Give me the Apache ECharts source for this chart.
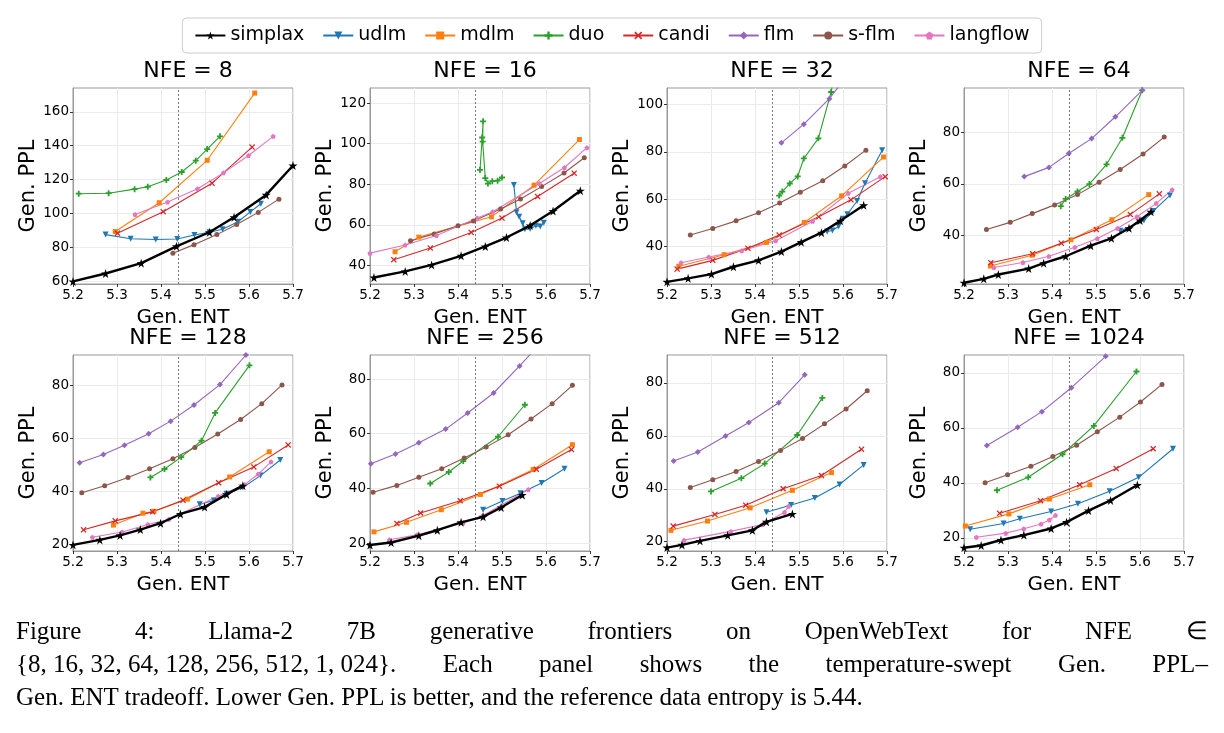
<!DOCTYPE html>
<html><head><meta charset="utf-8">
<script src="https://cdn.jsdelivr.net/npm/echarts@6/dist/echarts.min.js"></script>
<style>
body{margin:0;background:#fff;}
#c{position:absolute;left:0;top:0;width:1224px;height:733px;}
#cap{position:absolute;left:16px;top:614px;width:1192px;font-family:"Liberation Serif",serif;font-size:25px;line-height:33px;color:#000;}
#cap div{white-space:nowrap;}
</style></head><body>
<div id="c"></div>
<div id="cap">
<div style="display:flex;justify-content:space-between"><span>Figure</span><span>4:</span><span>Llama-2</span><span>7B</span><span>generative</span><span>frontiers</span><span>on</span><span>OpenWebText</span><span>for</span><span>NFE</span><span>∈</span></div>
<div style="display:flex;justify-content:space-between"><span>{8, 16, 32, 64, 128, 256, 512, 1, 024}.</span><span>Each</span><span>panel</span><span>shows</span><span>the</span><span>temperature-swept</span><span>Gen.</span><span>PPL–</span></div>
<div>Gen. ENT tradeoff. Lower Gen. PPL is better, and the reference data entropy is 5.44.</div>
</div>
<script>
const nfe = [8, 16, 32, 64, 128, 256, 512, 1024];
const xTicks = [5.2, 5.3, 5.4, 5.5, 5.6, 5.7];
const yRanges = [[58.5,174],[30.8,127.4],[24.1,107],[21,97.3],[17.5,91.6],[17.1,88.8],[16.5,90.5],[15.2,86.5]];
const yTicks = [[60,80,100,120,140,160],[40,60,80,100,120],[40,60,80,100],[40,60,80],[20,40,60,80],[20,40,60,80],[20,40,60,80],[20,40,60,80]];
const refEntropy = 5.44;
const methods = ['simplax','udlm','mdlm','duo','candi','flm','s-flm','langflow'];

const simplax = [
 [[5.2,60],[5.274,64.7],[5.355,70.8],[5.435,80.7],[5.51,89],[5.566,97.8],[5.639,111],[5.7,128.3]],
 [[5.209,34],[5.28,37],[5.34,40.2],[5.407,44.7],[5.462,49.3],[5.51,53.7],[5.564,59.6],[5.616,66.8],[5.678,76.8]],
 [[5.2,25],[5.248,26.5],[5.301,28.3],[5.351,31.4],[5.408,34.1],[5.46,37.8],[5.505,41.8],[5.551,45.8],[5.594,50.8],[5.647,57.4]],
 [[5.2,21.5],[5.245,23],[5.278,24.7],[5.347,27],[5.381,29.1],[5.431,31.8],[5.488,35.9],[5.535,38.8],[5.575,42.7],[5.6,45.7],[5.625,49.1]],
 [[5.2,19.8],[5.261,21.7],[5.307,23.4],[5.353,25.6],[5.399,28],[5.444,31.5],[5.499,34.1],[5.549,38.9],[5.586,42.2]],
 [[5.2,19.3],[5.248,20.2],[5.311,22.7],[5.353,24.7],[5.407,27.6],[5.457,29.6],[5.498,33],[5.546,37.6]],
 [[5.2,17.8],[5.234,18.8],[5.275,20.3],[5.338,22.4],[5.394,24.3],[5.426,27.5],[5.485,30.5]],
 [[5.2,16.4],[5.239,17.2],[5.284,19.2],[5.336,21],[5.398,23.4],[5.433,25.7],[5.483,29.9],[5.533,33.6],[5.594,39.2]]
];
const udlm = [
 [[5.274,87.6],[5.331,85.2],[5.388,84.7],[5.437,85],[5.476,87.4],[5.51,89],[5.54,90.8],[5.575,95.2],[5.603,101],[5.627,105.8]],
 [[5.527,79.6],[5.533,66.2],[5.539,64],[5.547,60.8],[5.552,57.8],[5.564,58],[5.577,59.5],[5.587,59.2],[5.595,61]],
 [[5.564,46.3],[5.576,46.7],[5.59,48.4],[5.6,51.7],[5.61,53.6],[5.632,59.2],[5.65,66.7],[5.689,80.7]],
 [[5.555,41.7],[5.609,45.7],[5.63,49.4],[5.668,55.5]],
 [[5.488,35.2],[5.52,36.6],[5.549,39.1],[5.586,41.5],[5.626,46],[5.671,51.9]],
 [[5.457,32.2],[5.501,35.4],[5.542,38.2],[5.59,42],[5.642,47.2]],
 [[5.426,31.1],[5.482,33.9],[5.536,36.5],[5.592,41.6],[5.647,49]],
 [[5.214,23.1],[5.29,25.2],[5.327,26.9],[5.398,29.6],[5.459,32.4],[5.531,36.9],[5.597,42],[5.675,52.4]]
];
const mdlm = [
 [[5.296,89.4],[5.396,106.4],[5.505,131.4],[5.613,171]],
 [[5.257,46.7],[5.311,53.9],[5.476,63.9],[5.573,79.5],[5.676,102]],
 [[5.227,31.6],[5.33,36.5],[5.426,41.7],[5.512,50.1],[5.597,61.4],[5.692,77.8]],
 [[5.26,28],[5.355,32.2],[5.443,38.2],[5.536,46],[5.62,55.8]],
 [[5.292,27.3],[5.359,31.8],[5.384,32.5],[5.46,37.1],[5.556,45.5],[5.646,55]],
 [[5.209,24.1],[5.283,27.6],[5.362,32.2],[5.451,37.8],[5.571,46.9],[5.66,56]],
 [[5.209,24.3],[5.292,27.8],[5.389,32.8],[5.485,39.4],[5.574,46.1]],
 [[5.203,24.3],[5.302,28.7],[5.394,34.1],[5.486,39.3]]
];
const duo = [
 [[5.213,111.7],[5.281,112],[5.34,114.4],[5.37,115.8],[5.412,119.8],[5.447,124.5],[5.479,131.2],[5.505,138],[5.534,145.5]],
 [[5.45,87],[5.455,103],[5.457,111],[5.456,101],[5.462,83],[5.468,80.3],[5.478,81.5],[5.49,81.7],[5.5,83.3]],
 [[5.455,61.5],[5.462,63.2],[5.479,66.6],[5.497,69.6],[5.511,77.2],[5.544,85.7],[5.573,105.3],[5.58,112]],
 [[5.42,51.3],[5.431,54.1],[5.458,57],[5.485,59.9],[5.524,67.6],[5.56,77.9],[5.605,96.4]],
 [[5.376,45.3],[5.408,48.5],[5.446,53],[5.492,59.2],[5.523,69.7],[5.601,87.7]],
 [[5.337,41.8],[5.379,46],[5.412,50],[5.491,58.9],[5.552,70.6]],
 [[5.3,39],[5.369,44],[5.422,49.5],[5.496,60.3],[5.553,74.3]],
 [[5.275,37.3],[5.346,42],[5.424,50.4],[5.495,60.7],[5.592,80.5]]
];
const candi = [
 [[5.301,88.4],[5.405,101.1],[5.516,117.9],[5.607,139.2]],
 [[5.254,42.8],[5.337,48.5],[5.43,56.2],[5.5,63.3],[5.581,73.9],[5.664,85.4]],
 [[5.223,30.4],[5.304,34.1],[5.384,39.2],[5.455,44.8],[5.545,52.5],[5.618,59.7],[5.696,69.5]],
 [[5.261,29.3],[5.356,32.8],[5.421,36.9],[5.501,42.2],[5.578,48.1],[5.644,56.1]],
 [[5.224,25.5],[5.296,28.9],[5.381,32.3],[5.45,36.7],[5.531,43.3],[5.611,49.3],[5.689,57.6]],
 [[5.261,27.2],[5.315,31],[5.405,35.5],[5.494,40.8],[5.578,47],[5.658,54.2]],
 [[5.214,25.9],[5.309,30.3],[5.379,33.8],[5.464,40],[5.551,45],[5.642,54.9]],
 [[5.281,28.9],[5.374,33.5],[5.463,39.3],[5.546,45.2],[5.63,52.4]]
];
const flm = [
 [],
 [],
 [[5.46,83.8],[5.511,91.7],[5.569,102.5],[5.6,110]],
 [[5.337,62.8],[5.393,66.4],[5.438,71.8],[5.49,77.6],[5.544,86.1],[5.605,96.4]],
 [[5.215,50.9],[5.269,54],[5.317,57.5],[5.372,61.8],[5.422,66.6],[5.475,72.7],[5.534,80.4],[5.593,91.6]],
 [[5.202,49],[5.258,52.6],[5.311,56.7],[5.372,61.7],[5.422,67.6],[5.481,74.9],[5.54,84.8],[5.57,90]],
 [[5.215,50.5],[5.27,53.9],[5.333,59.9],[5.386,65],[5.454,72.5],[5.513,83]],
 [[5.252,53.6],[5.322,60.2],[5.377,65.9],[5.444,74.6],[5.522,86]]
];
const sflm = [
 [[5.427,76.6],[5.475,81.7],[5.527,87.6],[5.572,93.6],[5.621,100.7],[5.668,108.5]],
 [[5.292,52.1],[5.346,55.5],[5.4,59.5],[5.435,61.8],[5.497,67.8],[5.542,72.7],[5.59,78.8],[5.641,85.5],[5.687,93]],
 [[5.253,44.8],[5.304,47.6],[5.357,50.8],[5.408,54.2],[5.456,58.4],[5.503,62.9],[5.554,67.8],[5.604,74],[5.652,80.7]],
 [[5.251,42.2],[5.305,45],[5.355,48.4],[5.406,51.8],[5.458,55.8],[5.507,60.6],[5.555,65.6],[5.607,71.6],[5.655,78.2]],
 [[5.22,39.5],[5.272,42.2],[5.325,45.3],[5.374,48.6],[5.427,52.4],[5.477,56.6],[5.529,61.7],[5.581,67.2],[5.629,73.2],[5.675,80.3]],
 [[5.207,38.6],[5.261,41.1],[5.311,44.1],[5.363,47.2],[5.414,51.1],[5.464,55.1],[5.514,59.6],[5.566,65.4],[5.614,71],[5.66,77.7]],
 [[5.253,40.5],[5.304,43.4],[5.357,46.5],[5.408,50.3],[5.458,54.4],[5.508,59],[5.558,64.5],[5.607,70.1],[5.655,77]],
 [[5.248,40],[5.299,42.9],[5.352,46],[5.402,49.6],[5.456,53.7],[5.503,58.6],[5.554,63.9],[5.601,69.4],[5.65,75.8]]
];
const langflow = [
 [[5.341,99.5],[5.415,106.8],[5.483,114.6],[5.542,124],[5.599,134.2],[5.655,145.5]],
 [[5.2,46],[5.28,50],[5.351,54.7],[5.444,63.3],[5.479,66.4],[5.585,80.3],[5.642,88.2],[5.693,98]],
 [[5.232,33.1],[5.295,35.5],[5.37,38.2],[5.447,42.4],[5.531,50.6],[5.612,62.5],[5.685,69.5]],
 [[5.268,27.4],[5.334,29.4],[5.393,31.8],[5.452,35.3],[5.503,38.7],[5.549,42.7],[5.593,47.2],[5.637,52.4],[5.673,57.7]],
 [[5.244,22.7],[5.312,24.7],[5.37,27.5],[5.418,29.5],[5.53,38.2],[5.59,42.6],[5.621,46.6],[5.65,51.2]],
 [[5.244,21.2],[5.307,23],[5.412,27.4],[5.457,30.1],[5.56,39.6]],
 [[5.239,20.6],[5.345,23.9],[5.417,26.5],[5.467,31.1],[5.476,33.4]],
 [[5.228,20.2],[5.295,21.7],[5.336,23.3],[5.375,25],[5.394,26.5],[5.408,28.2]]
];
const dataByMethod = [simplax, udlm, mdlm, duo, candi, flm, sflm, langflow];

const colors = ['#000000','#1f77b4','#ff7f0e','#2ca02c','#d62728','#9467bd','#8c564b','#e377c2'];
const starPath = 'path://M50,0 L61,35 L98,35 L68,57 L79,91 L50,70 L21,91 L32,57 L2,35 L39,35 Z';
const plusPath = 'path://M35,0 H65 V35 H100 V65 H65 V100 H35 V65 H0 V35 H35 Z';
const xPath = 'path://M15,0 L50,35 L85,0 L100,15 L65,50 L100,85 L85,100 L50,65 L15,100 L0,85 L35,50 L0,15 Z';
const pentPath = 'path://M50,0 L98,35 L79,91 L21,91 L2,35 Z';
const symbols = [starPath,'triangle','rect',plusPath,xPath,'diamond','circle',pentPath];
const sizes = [9,6,5,6,6,6,5,5];
const rot = [0,180,0,0,0,0,0,0];

const lefts = [73,370,667,964], tops = [88,355], W = 220, H = 196;
const grid=[], xAxis=[], yAxis=[], title=[], series=[];
for (let i=0;i<8;i++){
  const c=i%4, r=Math.floor(i/4);
  grid.push({left:lefts[c], top:tops[r], width:W, height:H, show:true, borderColor:'#999', borderWidth:1});
  title.push({text:'NFE = '+nfe[i], left:lefts[c]+W/2, top:tops[r]-33, textAlign:'center',
    textStyle:{fontFamily:'DejaVu Sans', fontSize:22, fontWeight:'normal', color:'#000'}});
  xAxis.push({gridIndex:i, type:'value', min:5.2, max:5.7, interval:0.1,
    name:'Gen. ENT', nameLocation:'middle', nameGap:24,
    nameTextStyle:{fontFamily:'DejaVu Sans', fontSize:20, color:'#000'},
    axisLine:{show:true,onZero:false,lineStyle:{color:'#999'}},
    axisTick:{show:true,length:3,lineStyle:{color:'#333'}},
    axisLabel:{fontFamily:'DejaVu Sans',fontSize:13.5,color:'#000',margin:4,formatter:v=>v.toFixed(1)},
    splitLine:{show:true,lineStyle:{color:'#ebebeb'}}});
  yAxis.push({gridIndex:i, type:'value', min:yRanges[i][0], max:yRanges[i][1],
    name:'Gen. PPL', nameLocation:'middle', nameGap:34,
    nameTextStyle:{fontFamily:'DejaVu Sans', fontSize:21, color:'#000'},
    axisLine:{show:true,lineStyle:{color:'#999'}},
    axisTick:{show:true,length:3,customValues:yTicks[i],lineStyle:{color:'#333'}},
    axisLabel:{fontFamily:'DejaVu Sans',fontSize:13.5,color:'#000',margin:4,customValues:yTicks[i]},
    splitLine:{show:true,lineStyle:{color:'#ebebeb'}}});
  for (let m=0;m<8;m++){
    const s = {name:methods[m], type:'line', xAxisIndex:i, yAxisIndex:i,
      data:dataByMethod[m][i], symbol:symbols[m], symbolSize:sizes[m], symbolRotate:rot[m],
      showSymbol:true, clip:true, z: m===0?5:3, color:colors[m],
      lineStyle:{width: m===0?2.4:1.1, color:colors[m]}, itemStyle:{color:colors[m]}, animation:false};
    if (m===7){
      s.markLine={silent:true, symbol:'none', label:{show:false},
        lineStyle:{type:[2,2], color:'#555', width:0.8}, data:[{xAxis:refEntropy}]};
    }
    series.push(s);
  }
}
const chart = echarts.init(document.getElementById('c'));
chart.setOption({
  backgroundColor:'#fff', animation:false,
  title, grid, xAxis, yAxis, series,
  legend:{data:methods, top:18, left:'center', itemWidth:30, itemHeight:10, itemGap:18,
    padding:[8,12], borderColor:'#ccc', borderWidth:1, borderRadius:4,
    textStyle:{fontFamily:'DejaVu Sans', fontSize:19, color:'#000'}}
});
</script></body></html>
